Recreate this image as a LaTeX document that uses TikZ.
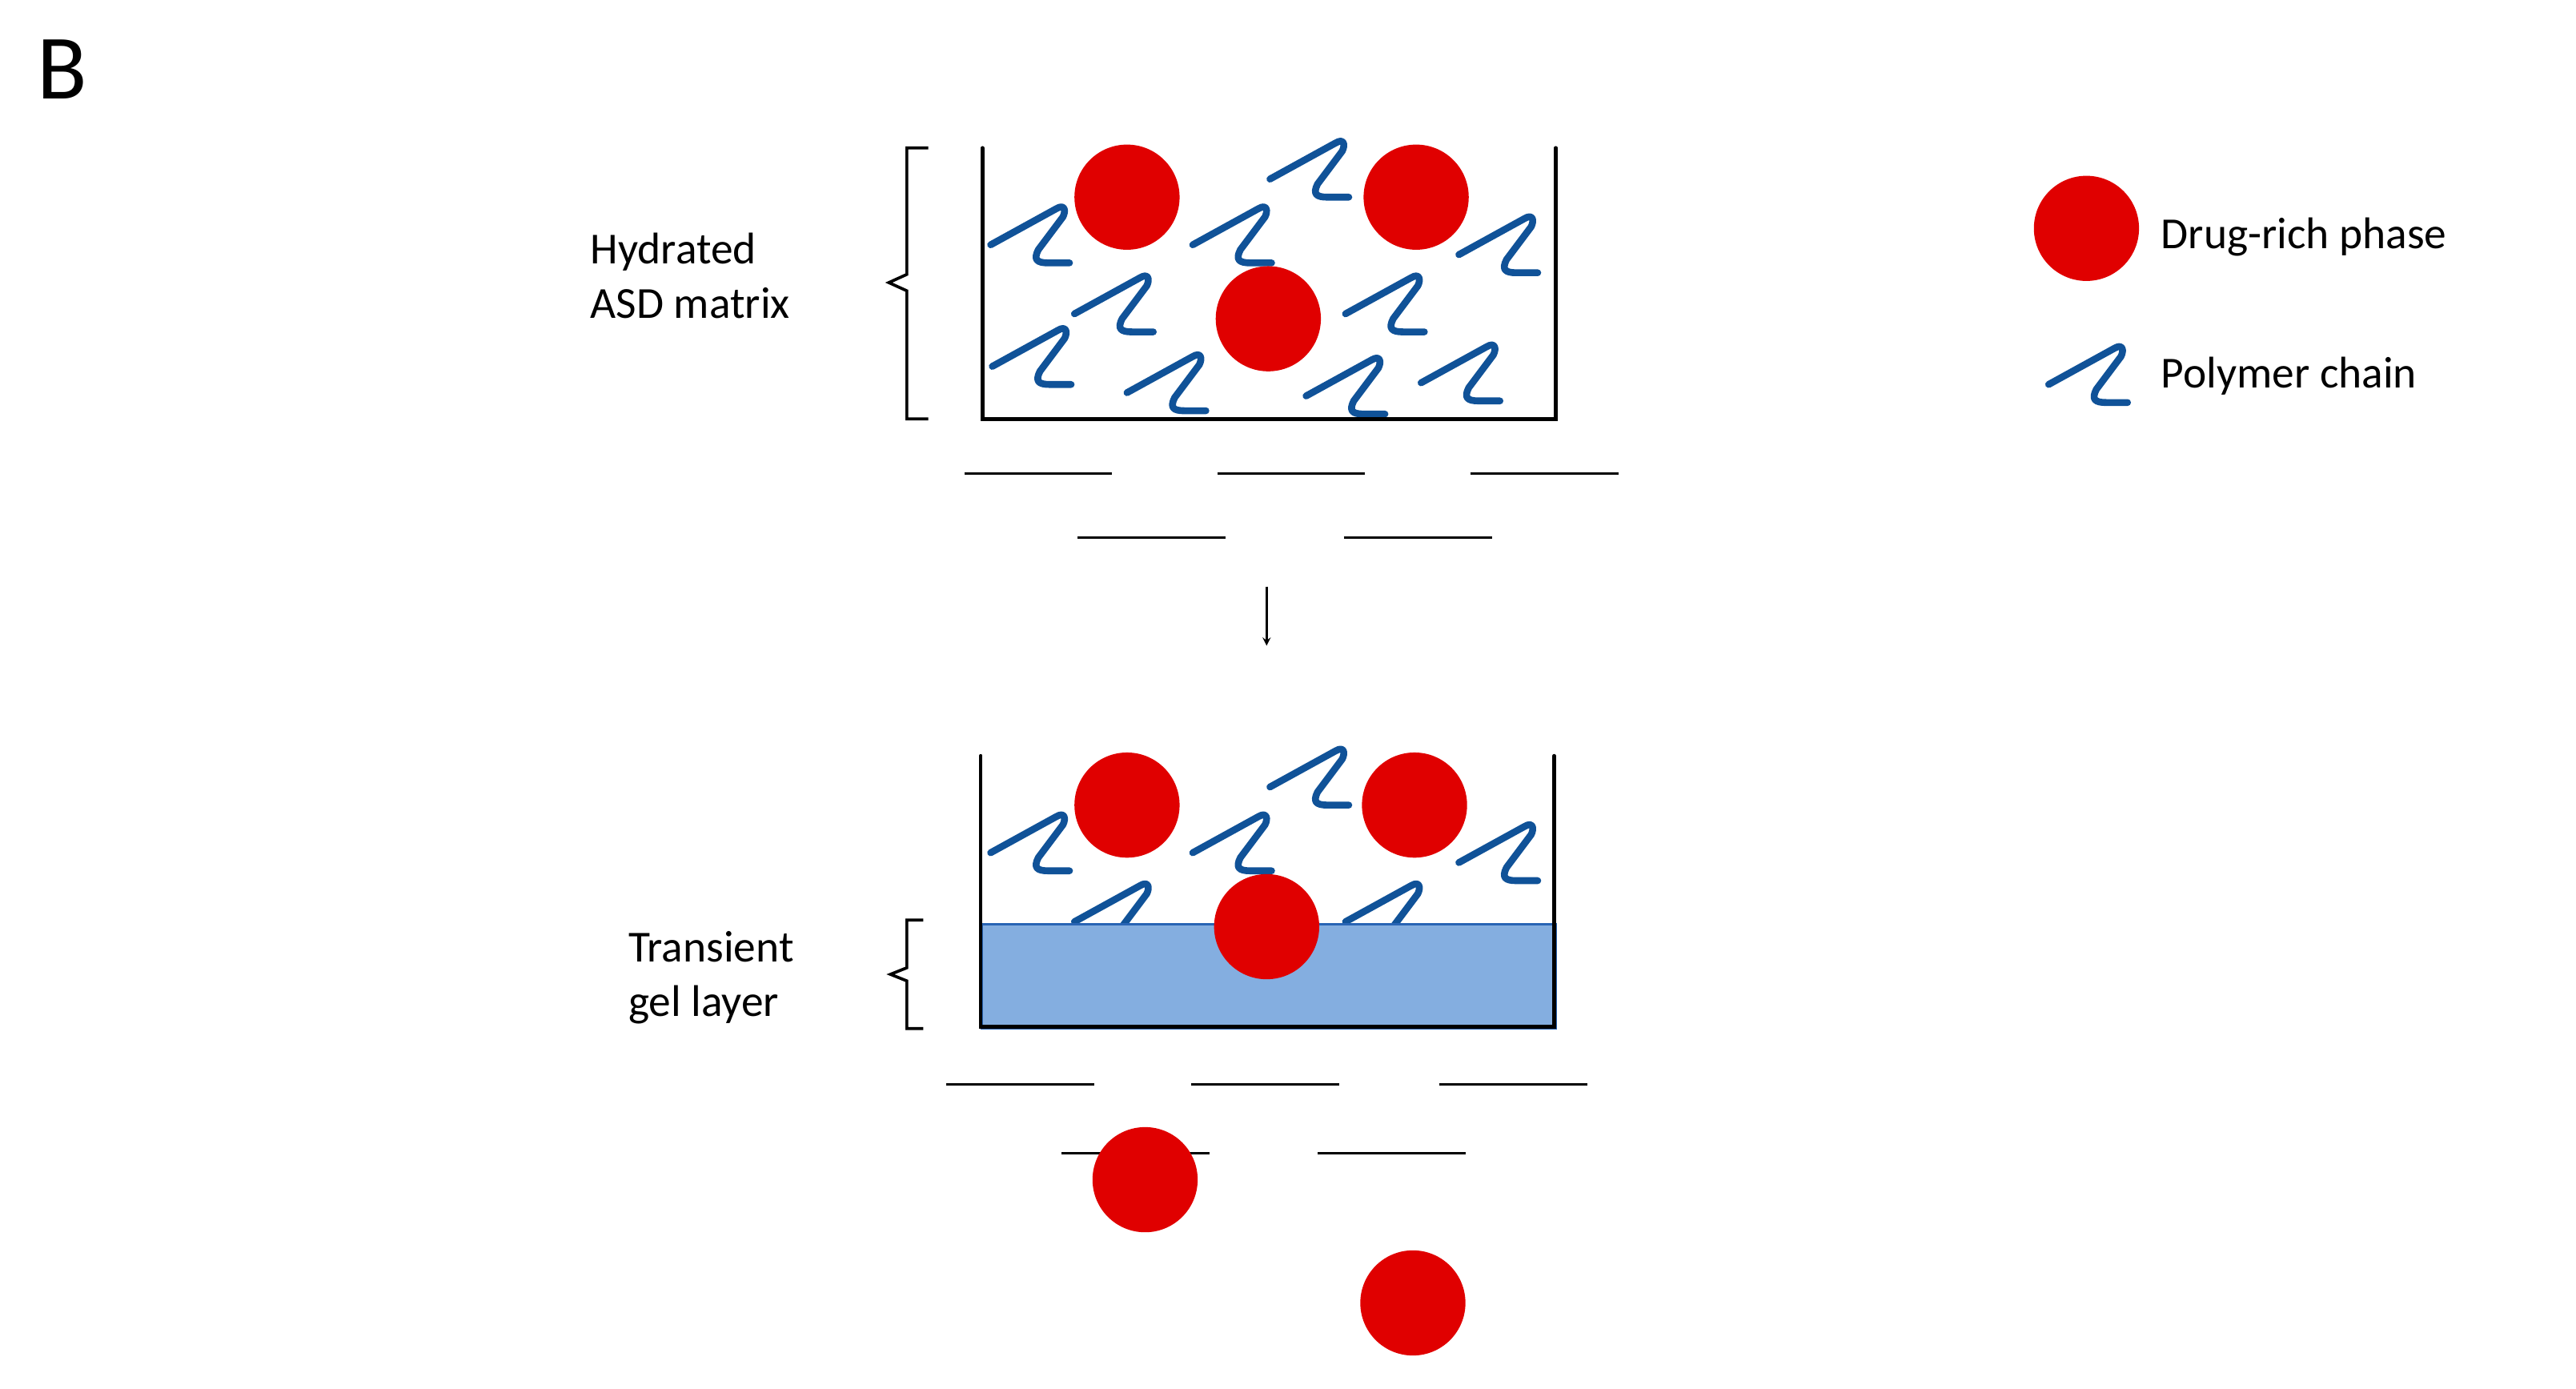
\documentclass[tikz,border=0pt]{standalone}
\usepackage{fontspec}
\setmainfont{Carlito}
\definecolor{chainblue}{RGB}{16,82,152}
\definecolor{drugred}{RGB}{224,0,0}
\definecolor{gelblue}{RGB}{132,174,224}
\definecolor{geledge}{RGB}{40,100,180}
\begin{document}
\begin{tikzpicture}[x=1pt,y=-1pt,
  chain/.pic={\draw[chainblue,line width=4.2pt,line cap=round,line join=round]
     (0,0) -- (40,-22) .. controls (45,-25) and (46,-21) .. (44,-17) -- (29,3)
     .. controls (26,9) and (28,11) .. (35,11) -- (48,11);},
  drug/.style={circle,fill=drugred,minimum size=64pt,inner sep=0pt},
  wall/.style={line width=2.2pt,line cap=round},
  water/.style={line width=1.4pt},
  lbl/.style={font=\fontsize{27}{33}\selectfont,align=left,anchor=west}]
\useasboundingbox (0,0) rectangle (1568,845);
\node[font=\fontsize{56}{56}\selectfont,anchor=center] (B) at (38,42) {B};
% top box
\foreach \x/\y in {603/149,726/149,773/109,888/155,654/191,819/191,604/223,686/239,795/241,865/233}
  \pic at (\x,\y) {chain};
\node[drug] (d1) at (686,120) {};
\node[drug] (d2) at (862,120) {};
\node[drug] (d3) at (772,194) {};
\draw[wall] (598,90) -- (598,255) -- (947,255) -- (947,90);
\draw[line width=1.8pt] (565,90) -- (552,90) -- (552,167) -- (541,172) -- (552,177) -- (552,255) -- (565,255);
\node[lbl] (t1) at (356,168) {Hydrated\\ASD matrix};
\foreach \a/\b/\y in {587/677/288,741/831/288,895/985/288,656/746/327,818/908/327}
  \draw[water] (\a,\y) -- (\b,\y);
\coordinate (a1) at (771,357);
\coordinate (a2) at (771,393);
\draw[-stealth,line width=1.2pt] (a1) -- (a2);
% bottom box
\foreach \x/\y in {603/519,726/519,773/479,888/525,654/561,819/561}
  \pic at (\x,\y) {chain};
\node[draw=geledge,fill=gelblue,line width=1.5pt,minimum width=349pt,minimum height=63pt,inner sep=0pt,anchor=north west] (gel) at (597,562) {};
\node[drug] (d4) at (686,490) {};
\node[drug] (d5) at (861,490) {};
\node[drug] (d6) at (771,564) {};
\draw[wall] (597,460) -- (597,625) -- (946,625) -- (946,460);
\draw[line width=1.8pt] (562,560) -- (552,560) -- (552,589) -- (542,593) -- (552,597) -- (552,626) -- (562,626);
\node[lbl] (t2) at (379,595) {Transient\\gel layer};
\foreach \a/\b/\y in {576/666/660,725/815/660,876/966/660,646/736/702,802/892/702}
  \draw[water] (\a,\y) -- (\b,\y);
\node[drug] (d7) at (697,718) {};
\node[drug] (d8) at (860,793) {};
% legend
\node[drug] (ld) at (1270,139) {};
\node[lbl] (l1) at (1312,144) {Drug-rich phase};
\pic at (1247,234) {chain};
\node[lbl] (l2) at (1312,229) {Polymer chain};
\end{tikzpicture}
\end{document}
